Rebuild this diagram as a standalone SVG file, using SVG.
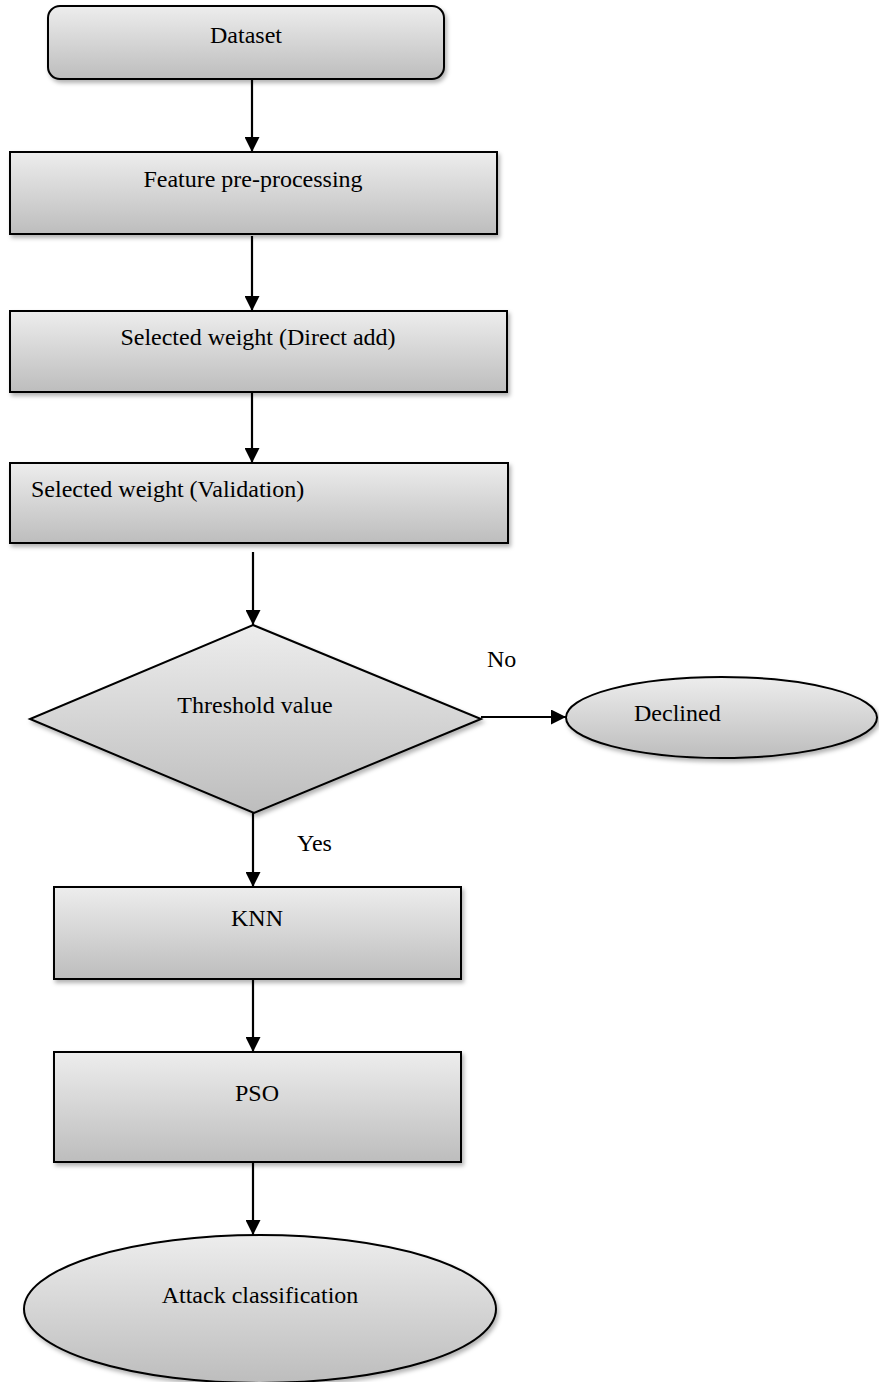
<svg xmlns="http://www.w3.org/2000/svg" width="879" height="1382" viewBox="0 0 879 1382">
<style>
  .node { fill: url(#g); stroke: #000; stroke-width: 2; filter: url(#sh); }
  .lbl { font-family: "Liberation Serif", "Times New Roman", serif; font-size: 24px; fill: #000; }
  .c { text-anchor: middle; }
  .conn { stroke: #000; stroke-width: 2.2; fill: none; marker-end: url(#ah); }
</style>
<defs>
  <linearGradient id="g" x1="0" y1="0" x2="0" y2="1">
    <stop offset="0" stop-color="#ededed"/>
    <stop offset="1" stop-color="#bdbdbd"/>
  </linearGradient>
  <filter id="sh" x="-5%" y="-10%" width="115%" height="130%">
    <feDropShadow dx="2" dy="3" stdDeviation="2" flood-color="#000" flood-opacity="0.3"/>
  </filter>
  <marker id="ah" markerUnits="userSpaceOnUse" markerWidth="16" markerHeight="15" refX="15" refY="7.5" orient="auto">
    <path d="M0,0 L15,7.5 L0,15 z" fill="#000"/>
  </marker>
</defs>
<rect width="879" height="1382" fill="#fff"/>

<g id="connectors">
  <line class="conn" x1="252" y1="79" x2="252" y2="152"/>
  <line class="conn" x1="252" y1="236" x2="252" y2="311"/>
  <line class="conn" x1="252" y1="393" x2="252" y2="463"/>
  <line class="conn" x1="253" y1="552" x2="253" y2="625"/>
  <line class="conn" x1="253" y1="813" x2="253" y2="887"/>
  <line class="conn" x1="253" y1="980" x2="253" y2="1052"/>
  <line class="conn" x1="253" y1="1163" x2="253" y2="1235"/>
  <line class="conn" x1="481" y1="717" x2="566" y2="717"/>
</g>

<g id="dataset">
  <rect class="node" x="48" y="6" width="396" height="73" rx="12" ry="12"/>
  <text class="lbl c" x="246" y="43">Dataset</text>
</g>
<g id="feature">
  <rect class="node" x="10" y="152" width="487" height="82"/>
  <text class="lbl c" x="253" y="187">Feature pre-processing</text>
</g>
<g id="direct">
  <rect class="node" x="10" y="311" width="497" height="81"/>
  <text class="lbl c" x="258" y="345">Selected weight (Direct add)</text>
</g>
<g id="validation">
  <rect class="node" x="10" y="463" width="498" height="80"/>
  <text class="lbl" x="31" y="497">Selected weight (Validation)</text>
</g>
<g id="threshold">
  <polygon class="node" points="253,625 481,719 254,813 30,719"/>
  <text class="lbl c" x="255" y="713">Threshold value</text>
</g>
<g id="declined">
  <ellipse class="node" cx="721.5" cy="717.5" rx="155.5" ry="40.5"/>
  <text class="lbl" x="634" y="721">Declined</text>
</g>
<g id="labels">
  <text class="lbl" x="487" y="667">No</text>
  <text class="lbl" x="297" y="851">Yes</text>
</g>
<g id="knn">
  <rect class="node" x="54" y="887" width="407" height="92"/>
  <text class="lbl c" x="257" y="926">KNN</text>
</g>
<g id="pso">
  <rect class="node" x="54" y="1052" width="407" height="110"/>
  <text class="lbl c" x="257" y="1101">PSO</text>
</g>
<g id="attack">
  <ellipse class="node" cx="260" cy="1309" rx="236" ry="74"/>
  <text class="lbl c" x="260" y="1303">Attack classification</text>
</g>
</svg>
